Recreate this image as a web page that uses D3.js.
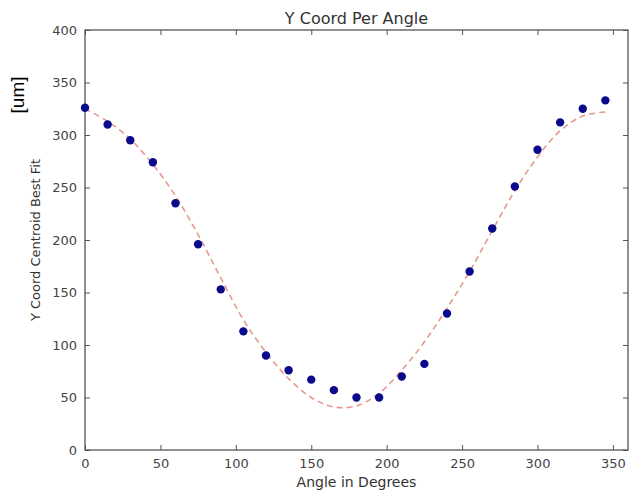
<!DOCTYPE html>
<html>
<head>
<meta charset="utf-8">
<script src="https://cdn.jsdelivr.net/npm/d3@7"></script>
<style>
  body { margin: 0; background: #fff; }
  text { font-family: "DejaVu Sans", sans-serif; }
</style>
</head>
<body>
<svg id="chart" width="630" height="493"></svg>
<script>
// measured angles and centroid values
var angles = [0, 15, 30, 45, 60, 75, 90, 105, 120, 135, 150, 165,
  180, 195, 210, 225, 240, 255, 270, 285, 300, 315, 330, 345];
var yCoords = [326, 310, 295, 274, 235, 196, 153, 113, 90, 76, 67, 57,
  50, 50, 70, 82, 130, 170, 211, 251, 286, 312, 325, 333];

// best fit curve
var fitAngles = [0, 15, 30, 45, 60, 75, 90, 105, 120, 135, 150, 165,
  180, 195, 210, 225, 240, 255, 270, 285, 300, 315, 330, 345];
var fitValues = [325, 313, 296, 272, 242, 205, 164, 124, 93, 68, 50, 41,
  42, 54, 76, 103, 135, 170, 209, 247, 279, 304, 318, 322];

var xTicks = [0, 50, 100, 150, 200, 250, 300, 350];
var yTicks = [0, 50, 100, 150, 200, 250, 300, 350, 400];

var svg = d3.select("#chart");
var mLeft = 85, mRight = 628, mTop = 30, mBottom = 450;

var x = d3.scaleLinear().domain([0, 360]).range([mLeft, mRight]);
var y = d3.scaleLinear().domain([0, 400]).range([mBottom, mTop]);

var axisColor = "#555";
var textColor = "#444";

// frame
svg.append("rect")
  .attr("x", mLeft).attr("y", mTop)
  .attr("width", mRight - mLeft).attr("height", mBottom - mTop)
  .attr("fill", "none")
  .attr("stroke", axisColor)
  .attr("stroke-width", 1.3);

// axes, ticks pointing inward on all four sides
var gx = svg.append("g").attr("transform", "translate(0," + mBottom + ")")
  .call(d3.axisBottom(x).tickValues(xTicks).tickSizeInner(-5).tickSizeOuter(0).tickPadding(9));
var gxTop = svg.append("g").attr("transform", "translate(0," + mTop + ")")
  .call(d3.axisTop(x).tickValues(xTicks).tickSizeInner(-5).tickSizeOuter(0).tickFormat(""));
var gy = svg.append("g").attr("transform", "translate(" + mLeft + ",0)")
  .call(d3.axisLeft(y).tickValues(yTicks).tickSizeInner(-5).tickSizeOuter(0).tickPadding(8));
var gyRight = svg.append("g").attr("transform", "translate(" + mRight + ",0)")
  .call(d3.axisRight(y).tickValues(yTicks).tickSizeInner(-5).tickSizeOuter(0).tickFormat(""));

[gx, gxTop, gy, gyRight].forEach(function(g) {
  g.select(".domain").remove();
  g.selectAll(".tick line").attr("stroke", axisColor);
  g.selectAll(".tick text")
    .attr("fill", textColor)
    .style("font-size", "13px");
});

// fit line
var line = d3.line()
  .x(function(d, i) { return x(fitAngles[i]); })
  .y(function(d) { return y(d); })
  .curve(d3.curveCatmullRom);

svg.append("path")
  .datum(fitValues)
  .attr("d", line)
  .attr("fill", "none")
  .attr("stroke", "#e39a8c")
  .attr("stroke-width", 1.6)
  .attr("stroke-dasharray", "6,4");

// data points
svg.selectAll(".pt")
  .data(yCoords)
  .enter()
  .append("circle")
  .attr("class", "pt")
  .attr("cx", function(d, i) { return x(angles[i]); })
  .attr("cy", function(d) { return y(d); })
  .attr("r", 4.2)
  .attr("fill", "#0a0a8c");

// labels
svg.append("text")
  .attr("x", (mLeft + mRight) / 2)
  .attr("y", 24)
  .attr("text-anchor", "middle")
  .attr("fill", "#333")
  .style("font-size", "16px")
  .text("Y Coord Per Angle");

svg.append("text")
  .attr("x", (mLeft + mRight) / 2)
  .attr("y", 487)
  .attr("text-anchor", "middle")
  .attr("fill", "#333")
  .style("font-size", "14px")
  .text("Angle in Degrees");

svg.append("text")
  .attr("transform", "translate(40," + (mTop + mBottom) / 2 + ") rotate(-90)")
  .attr("text-anchor", "middle")
  .attr("fill", "#333")
  .style("font-size", "13px")
  .text("Y Coord Centroid Best Fit");

svg.append("text")
  .attr("transform", "translate(24,95) rotate(-90)")
  .attr("text-anchor", "middle")
  .attr("fill", "#000")
  .style("font-family", "Liberation Sans, Arial, sans-serif")
  .style("font-size", "19px")
  .text("[um]");
</script>
</body>
</html>
